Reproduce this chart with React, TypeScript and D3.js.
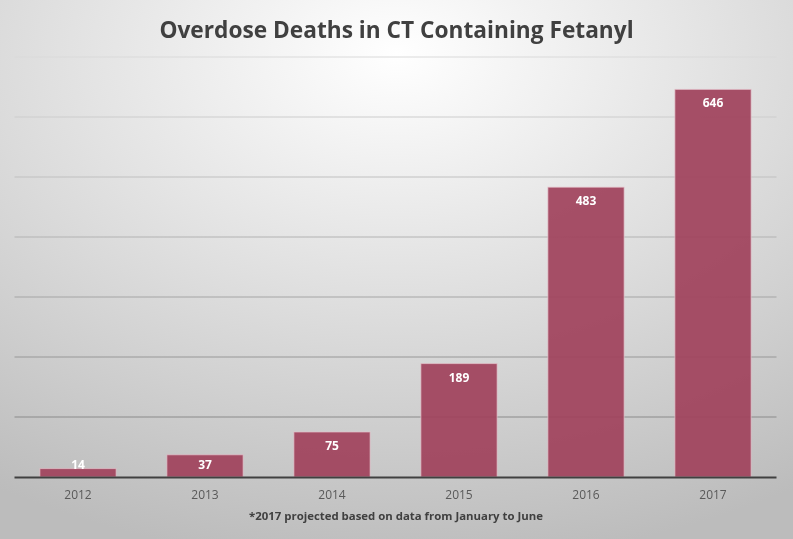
import React from "react";
import * as d3 from "d3";

const years = ["2012", "2013", "2014", "2015", "2016", "2017"];
const deaths = [14, 37, 75, 189, 483, 646];
const gridTicks = [100, 200, 300, 400, 500, 600, 700];
const title = "Overdose Deaths in CT Containing Fetanyl";
const footnote = "*2017 projected based on data from January to June";

const W = 793;
const H = 539;

export default function App() {
  const x = d3
    .scaleBand<string>()
    .domain(years)
    .range([14.5, 776.5])
    .paddingInner(0.4)
    .paddingOuter(0.2);
  const y = d3.scaleLinear().domain([0, 700]).range([477, 57]);
  const font = "'Open Sans', 'Noto Sans', sans-serif";

  return (
    <div style={{ position: "fixed", left: 0, top: 0, width: W, height: H }}>
      <svg width={W} height={H} style={{ display: "block" }}>
        <defs>
          <radialGradient id="bg" cx="50%" cy="10%" r="95%" fx="50%" fy="10%">
            <stop offset="0%" stopColor="#ffffff" />
            <stop offset="100%" stopColor="#bcbcbc" />
          </radialGradient>
          <linearGradient id="grid" gradientUnits="userSpaceOnUse" x1="0" y1="57" x2="0" y2="420">
            <stop offset="0%" stopColor="#dadada" />
            <stop offset="100%" stopColor="#8a8a8a" />
          </linearGradient>
        </defs>
        <rect x={0} y={0} width={W} height={H} fill="url(#bg)" />
        <text
          x={W / 2}
          y={38}
          textAnchor="middle"
          fontFamily={font}
          fontWeight="bold"
          fontSize={22.7}
          fill="#404040"
        >
          {title}
        </text>
        {gridTicks.map((t) => (
          <line
            key={t}
            x1={14.5}
            x2={776.5}
            y1={y(t)}
            y2={y(t)}
            stroke="url(#grid)"
            strokeWidth={1}
          />
        ))}
        {years.map((yr, i) => {
          const top = y(deaths[i]);
          const base = y(0);
          const labelY = Math.min(top + 18, base - 8);
          return (
            <g key={yr}>
              <rect
                x={x(yr)}
                y={top}
                width={x.bandwidth()}
                height={base - top}
                fill="#a0435c"
                fillOpacity={0.93}
                stroke="#e6c3cc"
                strokeOpacity={0.7}
                strokeWidth={1}
              />
              <text
                x={(x(yr) as number) + x.bandwidth() / 2}
                y={labelY}
                textAnchor="middle"
                fontFamily={font}
                fontWeight="bold"
                fontSize={12}
                fill="#ffffff"
              >
                {deaths[i]}
              </text>
              <text
                x={(x(yr) as number) + x.bandwidth() / 2}
                y={499}
                textAnchor="middle"
                fontFamily={font}
                fontSize={12}
                fill="#595959"
              >
                {yr}
              </text>
            </g>
          );
        })}
        <line x1={14.5} x2={776.5} y1={y(0) + 0.5} y2={y(0) + 0.5} stroke="#404040" strokeWidth={2} />
        <text
          x={396}
          y={520}
          textAnchor="middle"
          fontFamily={font}
          fontWeight="bold"
          fontSize={11.4}
          fill="#404040"
        >
          {footnote}
        </text>
      </svg>
    </div>
  );
}
